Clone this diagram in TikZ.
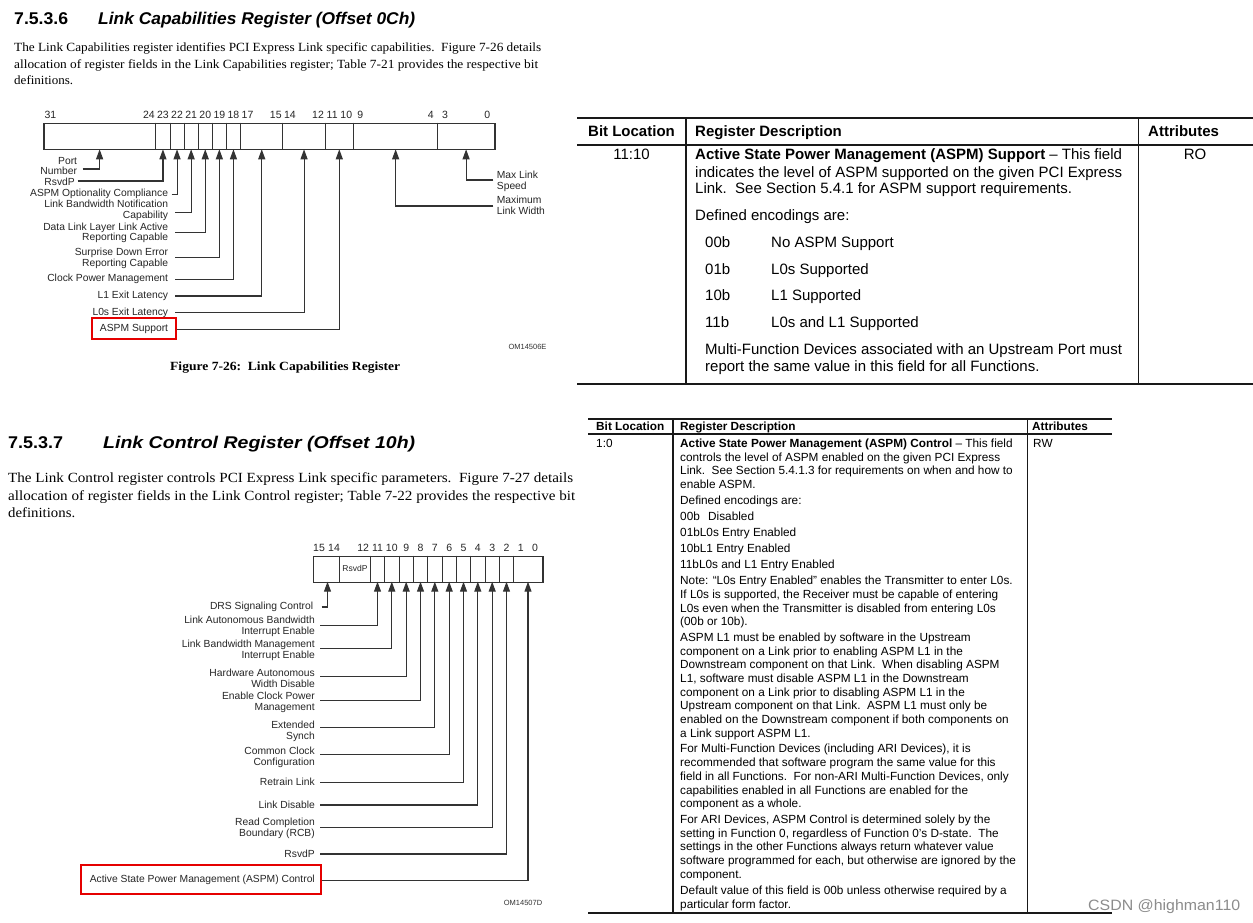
\documentclass[tikz,border=0pt]{standalone}
\usepackage{fontspec}
\setmainfont{Liberation Serif}
\setsansfont{Liberation Sans}
\usetikzlibrary{arrows.meta}
\newcommand\fitw[2]{\resizebox{#1}{\height}{#2}}
\begin{document}
\begin{tikzpicture}[x=1pt,y=-1pt,
  lbl/.style={font=\sffamily\fontsize{10.3}{10.7}\selectfont, text=black!85, inner sep=0pt, align=right, anchor=east},
  lblr/.style={font=\sffamily\fontsize{10.3}{10.7}\selectfont, text=black!85, inner sep=0pt, align=left, anchor=west},
  bitn/.style={font=\sffamily\fontsize{10.5}{12}\selectfont, text=black!85, inner sep=0pt},
  regbox/.style={draw=black!80, line width=1.2pt, fill=white, inner sep=0pt, anchor=north west},
  divl/.style={draw=black!80, line width=1pt},
  arr/.style={draw=black!80, line width=1.1pt, -{Triangle[length=10pt,width=7pt]}},
  hl/.style={draw=red!90!black, line width=1.8pt},
  ta/.style={font=\sffamily\fontsize{15}{17}\selectfont, inner sep=0pt, anchor=base west},
  tah/.style={font=\sffamily\bfseries\fontsize{15}{17}\selectfont, inner sep=0pt, anchor=base west},
  tb/.style={font=\sffamily\fontsize{11.8}{13.7}\selectfont, inner sep=0pt, anchor=base west},
  tbh/.style={font=\sffamily\bfseries\fontsize{11.8}{13.7}\selectfont, inner sep=0pt, anchor=base west},
  rulel/.style={draw=black!90},
  head/.style={font=\sffamily\bfseries\fontsize{17}{20}\selectfont, inner sep=0pt, anchor=base west},
  para/.style={font=\rmfamily\fontsize{12.5}{15}\selectfont, inner sep=0pt, anchor=base west},
  parab/.style={font=\rmfamily\fontsize{14}{16}\selectfont, inner sep=0pt, anchor=base west},
  omid/.style={font=\sffamily\fontsize{7.5}{9}\selectfont, text=black!80, inner sep=0pt}
]
\useasboundingbox (0,0) rectangle (1253,923);
\fill[white] (0,0) rectangle (1253,923);

% ---------------- top section heading & text
\node[head] (h1n) at (14,24.1) {\fitw{54pt}{7.5.3.6}};
\node[head] (h1t) at (98,24.1) {\fitw{317pt}{\itshape Link Capabilities Register (Offset 0Ch)}};
\node[para] (p1a) at (14,52) {\fitw{527pt}{The Link Capabilities register identifies PCI Express Link specific capabilities.\ \ Figure 7-26 details}};
\node[para] (p1b) at (14,68.5) {\fitw{524pt}{allocation of register fields in the Link Capabilities register; Table 7-21 provides the respective bit}};
\node[para] (p1c) at (14,85) {\fitw{59pt}{definitions.}};

% ---------------- top register figure
\node[regbox, minimum width=451pt, minimum height=26.6pt] (regA) at (43.3,122.7) {};
\foreach \x in {155.9,170.1,184.2,198.3,212.4,226.5,240.6,282.9,325.2,353.4,437.9}
  \draw[divl] (\x,122.7) -- (\x,149.3);
\foreach \x/\t in {50.35/31,148.85/24,162.95/23,177.05/22,191.15/21,205.25/20,219.35/19,233.45/18,247.55/17,275.75/15,289.85/14,318.05/12,332.15/11,346.25/10,360.35/9,430.85/4,444.95/3,487.25/0}
  \node[bitn] (ta\t) at (\x,114.7) {\t};

\coordinate (aPN) at (99.6,149.3);
\coordinate (a23) at (162.95,149.3);
\coordinate (a22) at (177.05,149.3);
\coordinate (a21) at (191.15,149.3);
\coordinate (a20) at (205.25,149.3);
\coordinate (a19) at (219.35,149.3);
\coordinate (a18) at (233.45,149.3);
\coordinate (aL1) at (261.75,149.3);
\coordinate (aL0) at (304.05,149.3);
\coordinate (aAS) at (339.3,149.3);
\coordinate (aMW) at (395.65,149.3);
\coordinate (aMS) at (466.1,149.3);

\node[lbl] (pn) at (77.3,166) {Port\\Number};
\draw[arr] ([xshift=5.4pt,yshift=-3pt]pn.east) -| (aPN);
\node[lbl] (rsvA) at (75,182) {RsvdP};
\draw[arr] ([xshift=2.7pt,yshift=1pt]rsvA.east) -| (a23);
\node[lbl] (aoc) at (168.3,194.3) {ASPM Optionality Compliance};
\draw[arr] ([xshift=3.4pt]aoc.east) -| (a22);
\node[lbl] (lbn) at (168.3,210.3) {Link Bandwidth Notification\\Capability};
\draw[arr] ([xshift=6.7pt,yshift=-2.4pt]lbn.east) -| (a21);
\node[lbl] (dll) at (168.3,232.7) {Data Link Layer Link Active\\Reporting Capable};
\draw[arr] ([xshift=6.7pt]dll.east) -| (a20);
\node[lbl] (sde) at (168.3,258) {Surprise Down Error\\Reporting Capable};
\draw[arr] ([xshift=6.7pt,yshift=0.7pt]sde.east) -| (a19);
\node[lbl] (cpm) at (168.3,279.3) {Clock Power Management};
\draw[arr] ([xshift=6.7pt]cpm.east) -| (a18);
\node[lbl] (l1e) at (168.3,296) {L1 Exit Latency};
\draw[arr] ([xshift=6.7pt]l1e.east) -| (aL1);
\node[lbl] (l0e) at (168.3,312.7) {L0s Exit Latency};
\draw[arr] ([xshift=6.7pt]l0e.east) -| (aL0);
\node[lbl] (asps) at (168.3,329.3) {ASPM Support};
\draw[arr] ([xshift=6.7pt]asps.east) -| (aAS);
\draw[hl] (91.7,318.3) rectangle (175.7,339.3);

\node[lblr] (mls) at (496.7,181.3) {Max Link\\Speed};
\draw[arr] ([xshift=-3.4pt,yshift=1.3pt]mls.west) -| (aMS);
\node[lblr] (mlw) at (496.7,205.3) {Maximum\\Link Width};
\draw[arr] ([xshift=-3.4pt,yshift=-0.7pt]mlw.west) -| (aMW);

\node[omid] (om1) at (527.5,346.7) {OM14506E};
\node[font=\rmfamily\bfseries\fontsize{12.5}{14}\selectfont, inner sep=0pt, anchor=base west] (cap1) at (170,370) {\fitw{230pt}{Figure 7-26:\ \ Link Capabilities Register}};

% ---------------- top table
\draw[rulel, line width=2pt] (577,118) -- (1253,118);
\draw[rulel, line width=1.8pt] (577,145) -- (1253,145);
\draw[rulel, line width=2pt] (577,384) -- (1253,384);
\draw[rulel, line width=1.5pt] (686,118) -- (686,384);
\draw[rulel, line width=1.5pt] (1138.5,118) -- (1138.5,384);
\node[tah, anchor=base] (th1) at (631.5,137) {Bit Location};
\node[tah] (th2) at (695,137) {Register Description};
\node[tah] (th3) at (1148,137) {Attributes};
\node[ta, anchor=base] (tbit) at (631.5,159.4) {11:10};
\node[ta, anchor=base] (tatt) at (1195,159.4) {RO};
\node[ta] (tl1) at (695,159.4) {\textbf{Active State Power Management (ASPM) Support} – This field};
\node[ta] (tl2) at (695,177.1) {indicates the level of ASPM supported on the given PCI Express};
\node[ta] (tl3) at (695,193.7) {Link.\ \ See Section 5.4.1 for ASPM support requirements.};
\node[ta] (tl4) at (695,220.4) {Defined encodings are:};
\node[ta] (tc1) at (705,247.4) {00b};
\node[ta] (td1) at (771,247.4) {No ASPM Support};
\node[ta] (tc2) at (705,274.1) {01b};
\node[ta] (td2) at (771,274.1) {L0s Supported};
\node[ta] (tc3) at (705,300.7) {10b};
\node[ta] (td3) at (771,300.7) {L1 Supported};
\node[ta] (tc4) at (705,327.1) {11b};
\node[ta] (td4) at (771,327.1) {L0s and L1 Supported};
\node[ta] (tl5) at (705,354.1) {Multi-Function Devices associated with an Upstream Port must};
\node[ta] (tl6) at (705,371.1) {report the same value in this field for all Functions.};

% ---------------- bottom section heading & text
\node[head] (h2n) at (8,448.1) {\fitw{55pt}{7.5.3.7}};
\node[head] (h2t) at (103,448.1) {\fitw{312pt}{\itshape Link Control Register (Offset 10h)}};
\node[parab] (p2a) at (8,482.6) {\fitw{565pt}{The Link Control register controls PCI Express Link specific parameters.\ \ Figure 7-27 details}};
\node[parab] (p2b) at (8,500.6) {\fitw{567pt}{allocation of register fields in the Link Control register; Table 7-22 provides the respective bit}};
\node[parab] (p2c) at (8,517.6) {\fitw{67pt}{definitions.}};

% ---------------- bottom register figure
\node[regbox, minimum width=229.6pt, minimum height=26pt] (regB) at (312.7,555.7) {};
\foreach \x in {339,370.3,384.7,399.0,413.3,427.7,442.0,456.3,470.7,485.0,499.3,513.6}
  \draw[divl] (\x,555.7) -- (\x,581.7);
\node[font=\sffamily\fontsize{8.5}{10}\selectfont, text=black!85, inner sep=0pt] (rsvin) at (355,568.5) {RsvdP};
\foreach \x/\t in {319/15,334/14,363.2/12,377.5/11,391.8/10,406.2/9,420.5/8,434.8/7,449.2/6,463.5/5,477.8/4,492.2/3,506.5/2,520.8/1,535.1/0}
  \node[bitn] (tb\t) at (\x,548.3) {\t};

\coordinate (bDR) at (327.5,581.7);
\coordinate (b11) at (377.5,581.7);
\coordinate (b10) at (391.8,581.7);
\coordinate (b9) at (406.2,581.7);
\coordinate (b8) at (420.5,581.7);
\coordinate (b7) at (434.8,581.7);
\coordinate (b6) at (449.2,581.7);
\coordinate (b5) at (463.5,581.7);
\coordinate (b4) at (477.8,581.7);
\coordinate (b3) at (492.2,581.7);
\coordinate (b2) at (506.5,581.7);
\coordinate (b0) at (528,581.7);

\node[lbl] (drs) at (313.3,607) {DRS Signaling Control};
\draw[arr] ([xshift=8.4pt]drs.east) -| (bDR);
\node[lbl] (lab) at (315,626.4) {Link Autonomous Bandwidth\\Interrupt Enable};
\draw[arr] ([xshift=5pt,yshift=0.7pt]lab.east) -| (b11);
\node[lbl] (lbm) at (315,650.5) {Link Bandwidth Management\\Interrupt Enable};
\draw[arr] ([xshift=5pt,yshift=2.2pt]lbm.east) -| (b10);
\node[lbl] (haw) at (315,678.5) {Hardware Autonomous\\Width Disable};
\draw[arr] ([xshift=5pt,yshift=1.8pt]haw.east) -| (b9);
\node[lbl] (ecp) at (315,702.5) {Enable Clock Power\\Management};
\draw[arr] ([xshift=5pt,yshift=1.8pt]ecp.east) -| (b8);
\node[lbl] (ext) at (315,731.3) {Extended\\Synch};
\draw[arr] ([xshift=5pt,yshift=4pt]ext.east) -| (b7);
\node[lbl] (ccc) at (315,757.3) {Common Clock\\Configuration};
\draw[arr] ([xshift=5pt,yshift=3pt]ccc.east) -| (b6);
\node[lbl] (rtl) at (315,782.3) {Retrain Link};
\draw[arr] ([xshift=5pt]rtl.east) -| (b5);
\node[lbl] (ldis) at (315,805) {Link Disable};
\draw[arr] ([xshift=5pt]ldis.east) -| (b4);
\node[lbl] (rcb) at (315,828.3) {Read Completion\\Boundary (RCB)};
\draw[arr] ([xshift=5pt,yshift=0.6pt]rcb.east) -| (b3);
\node[lbl] (rsvB) at (315,854) {RsvdP};
\draw[arr] ([xshift=5pt]rsvB.east) -| (b2);
\node[lbl] (aspmc) at (315,880.3) {Active State Power Management (ASPM) Control};
\draw[arr] ([xshift=6pt]aspmc.east) -| (b0);
\draw[hl] (80.7,865) rectangle (321,893.7);
\node[omid] (om2) at (523,903) {OM14507D};

% ---------------- bottom table
\draw[rulel, line width=2pt] (588,419) -- (1112,419);
\draw[rulel, line width=1.2pt] (588,434) -- (1112,434);
\draw[rulel, line width=1.5pt] (588,913) -- (1112,913);
\draw[rulel, line width=1.2pt] (673,419) -- (673,913);
\draw[rulel, line width=1.2pt] (1027.5,419) -- (1027.5,913);
\node[tbh] (bh1) at (596,430.2) {Bit Location};
\node[tbh] (bh2) at (680,430.2) {Register Description};
\node[tbh] (bh3) at (1032,430.2) {Attributes};
\node[tb] (bbit) at (596,447.4) {1:0};
\node[tb] (batt) at (1033,447.4) {RW};
\node[tb] (d01) at (680,447.4) {\textbf{Active State Power Management (ASPM) Control} – This field};
\node[tb] (d02) at (680,461.1) {controls the level of ASPM enabled on the given PCI Express};
\node[tb] (d03) at (680,474.8) {Link.\ \ See Section 5.4.1.3 for requirements on when and how to};
\node[tb] (d04) at (680,488.4) {enable ASPM.};
\node[tb] (d05) at (680,504.4) {Defined encodings are:};
\node[tb] (d06) at (680,520.4) {00b};
\node[tb] (d06b) at (708,520.4) {Disabled};
\node[tb] (d07) at (680,536.4) {01bL0s Entry Enabled};
\node[tb] (d08) at (680,552.4) {10bL1 Entry Enabled};
\node[tb] (d09) at (680,568.4) {11bL0s and L1 Entry Enabled};
\node[tb] (d10) at (680,584.4) {Note: “L0s Entry Enabled” enables the Transmitter to enter L0s.};
\node[tb] (d11) at (680,598.4) {If L0s is supported, the Receiver must be capable of entering};
\node[tb] (d12) at (680,612.1) {L0s even when the Transmitter is disabled from entering L0s};
\node[tb] (d13) at (680,625.8) {(00b or 10b).};
\node[tb] (d14) at (680,641.4) {ASPM L1 must be enabled by software in the Upstream};
\node[tb] (d15) at (680,655.1) {component on a Link prior to enabling ASPM L1 in the};
\node[tb] (d16) at (680,668.8) {Downstream component on that Link.\ \ When disabling ASPM};
\node[tb] (d17) at (680,682.5) {L1, software must disable ASPM L1 in the Downstream};
\node[tb] (d18) at (680,696.2) {component on a Link prior to disabling ASPM L1 in the};
\node[tb] (d19) at (680,709.9) {Upstream component on that Link.\ \ ASPM L1 must only be};
\node[tb] (d20) at (680,723.6) {enabled on the Downstream component if both components on};
\node[tb] (d21) at (680,737.4) {a Link support ASPM L1.};
\node[tb] (d22) at (680,752.9) {For Multi-Function Devices (including ARI Devices), it is};
\node[tb] (d23) at (680,766.6) {recommended that software program the same value for this};
\node[tb] (d24) at (680,780.3) {field in all Functions.\ \ For non-ARI Multi-Function Devices, only};
\node[tb] (d25) at (680,794) {capabilities enabled in all Functions are enabled for the};
\node[tb] (d26) at (680,807.7) {component as a whole.};
\node[tb] (d27) at (680,823.4) {For ARI Devices, ASPM Control is determined solely by the};
\node[tb] (d28) at (680,837.1) {setting in Function 0, regardless of Function 0’s D-state.\ \ The};
\node[tb] (d29) at (680,850.8) {settings in the other Functions always return whatever value};
\node[tb] (d30) at (680,864.5) {software programmed for each, but otherwise are ignored by the};
\node[tb] (d31) at (680,878.2) {component.};
\node[tb] (d32) at (680,894.4) {Default value of this field is 00b unless otherwise required by a};
\node[tb] (d33) at (680,908.1) {particular form factor.};

% ---------------- watermark
\node[font=\sffamily\fontsize{15}{17}\selectfont, text=black!45, inner sep=0pt, anchor=base west] (wm) at (1088,910.5) {\fitw{152pt}{CSDN @highman110}};
\end{tikzpicture}
\end{document}
